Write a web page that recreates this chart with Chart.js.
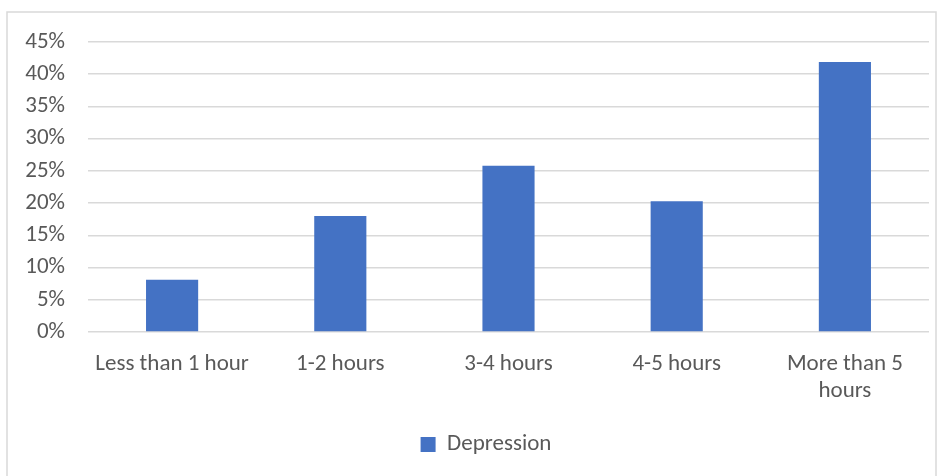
<!DOCTYPE html>
<html>
<head>
<meta charset="utf-8">
<script src="https://cdn.jsdelivr.net/npm/chart.js@4"></script>
<style>
  html, body { margin: 0; padding: 0; background: #fff; }
  #wrap { width: 944px; height: 476px; position: relative; }
</style>
</head>
<body>
<div id="wrap"><canvas id="chart" width="944" height="476"></canvas></div>
<script>
// Screen time categories and share of respondents reporting depression
const categories = ['Less than 1 hour', '1-2 hours', '3-4 hours', '4-5 hours', ['More than 5', 'hours']];
const depression = [0.081, 0.180, 0.258, 0.203, 0.419];
const yTicks = [0, 0.05, 0.10, 0.15, 0.20, 0.25, 0.30, 0.35, 0.40, 0.45];

const FONT = "Carlito, Lato, 'Liberation Sans', sans-serif";
const TEXT = '#595959';

// Light grey frame around the whole chart
const framePlugin = {
  id: 'frame',
  beforeDraw(chart) {
    const ctx = chart.ctx;
    ctx.save();
    ctx.fillStyle = '#fff';
    ctx.fillRect(0, 0, chart.width, chart.height);
    ctx.strokeStyle = '#d9d9d9';
    ctx.lineWidth = 1.5;
    ctx.strokeRect(7, 12, 929, 480);
    ctx.restore();
  }
};

// Nudge the legend so it sits a little right of the canvas centre
const legendShift = {
  id: 'legendShift',
  afterLayout(chart) {
    const lg = chart.legend;
    if (lg) { lg.left += 18; lg.right += 18; }
  }
};

new Chart(document.getElementById('chart'), {
  type: 'bar',
  data: {
    labels: categories,
    datasets: [{
      label: 'Depression',
      data: depression,
      backgroundColor: '#4472C4',
      borderWidth: 0,
      categoryPercentage: 1,
      barPercentage: 0.31
    }]
  },
  options: {
    responsive: false,
    animation: false,
    layout: { padding: { left: 7, right: 15, top: 42, bottom: 10 } },
    scales: {
      x: {
        grid: { display: false },
        border: { display: false },
        ticks: {
          color: TEXT,
          font: { family: FONT, size: 23 },
          padding: 10,
          maxRotation: 0,
          autoSkip: false
        },
        afterFit(scale) { scale.height = 91; }
      },
      y: {
        min: 0,
        max: 0.45,
        afterBuildTicks(scale) { scale.ticks = yTicks.map(v => ({ value: v })); },
        grid: { color: '#d9d9d9', lineWidth: 1.5, drawTicks: false },
        border: { display: false },
        ticks: {
          color: TEXT,
          font: { family: FONT, size: 23 },
          padding: 23,
          callback: v => Math.round(v * 100) + '%'
        },
        afterFit(scale) { scale.width = 81; }
      }
    },
    plugins: {
      legend: {
        position: 'bottom',
        labels: {
          color: TEXT,
          font: { family: FONT, size: 23 },
          boxWidth: 15,
          boxHeight: 15,
          padding: 10
        }
      },
      tooltip: { enabled: false }
    }
  },
  plugins: [framePlugin, legendShift]
});
</script>
</body>
</html>
